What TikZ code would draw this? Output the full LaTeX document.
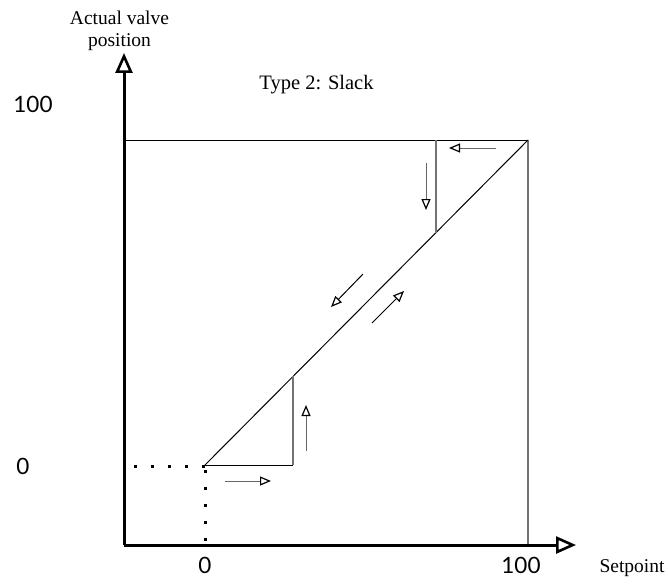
\documentclass[tikz,border=0pt]{standalone}
\usepackage{fontspec}
\setmainfont{Liberation Serif}
\newfontfamily\numfont{Lato}
\usetikzlibrary{arrows.meta}
\begin{document}
\begin{tikzpicture}[x=1pt,y=-1pt,
  axis/.style={line width=3pt,-{Triangle[open,length=20pt,width=17pt,line width=2.6pt]}},
  thin/.style={line width=1pt},
  greyline/.style={line width=1.4pt,draw=black!55},
  small/.style={line width=1pt,draw=black!60,-{Triangle[open,length=11pt,width=9pt,line width=1.2pt,color=black]}},
  dots/.style={line width=3pt,dash pattern=on 3pt off 14pt},
  num/.style={font=\numfont\fontsize{22.5}{26}\selectfont,inner sep=0pt,anchor=base},
  lab/.style={font=\fontsize{19.5}{22}\selectfont,inner sep=0pt,anchor=base}]
\useasboundingbox (0,0) rectangle (668,583);
% key points
\coordinate (O) at (124,545);
\coordinate (ytip) at (124,53);
\coordinate (xtip) at (576,545);
\coordinate (z) at (205,465);
\coordinate (top) at (528,140);
\coordinate (yl) at (124,140);
\coordinate (xr) at (528,545);
\coordinate (ul) at (124,466);
\coordinate (uz) at (205,466);
\coordinate (ub) at (205,545);
\coordinate (a1) at (436,140);
\coordinate (a2) at (436,232.6);
\coordinate (b1) at (293,465);
\coordinate (b2) at (293,376.4);
% frame lines
\draw[thin] (yl) -- (top);
\draw[greyline] (top) -- (xr);
\draw[thin] (z) -- (top);
\draw[greyline] (a1) -- (a2);
\draw[thin] (z) -- (b1);
\draw[greyline] (b1) -- (b2);
% dotted
\draw[dots,dash phase=-10pt] (ul) -- (uz);
\draw[dots,dash phase=-3.5pt] (uz) -- (ub);
% axes
\draw[axis] (O) -- (ytip);
\draw[axis] (O) -- (xtip);
% small arrows
\coordinate (s1a) at (496,148); \coordinate (s1b) at (449,148);
\coordinate (s2a) at (426,163); \coordinate (s2b) at (426,210);
\coordinate (s3a) at (306,451); \coordinate (s3b) at (306,405);
\coordinate (s4a) at (225,481); \coordinate (s4b) at (271,481);
\coordinate (s5a) at (363,274); \coordinate (s5b) at (331,307);
\coordinate (s6a) at (372,323); \coordinate (s6b) at (404,291);
\draw[small] (s1a) -- (s1b);
\draw[small] (s2a) -- (s2b);
\draw[small] (s3a) -- (s3b);
\draw[small] (s4a) -- (s4b);
\draw[small,draw=black] (s5a) -- (s5b);
\draw[small,draw=black] (s6a) -- (s6b);
% texts
\node[lab] (ylab1) at (119.5,25) {Actual valve};
\node[lab] (ylab2) at (119.5,47) {position};
\node[lab,font=\fontsize{20.5}{24}\selectfont] (title) at (316.5,89) {Type 2: Slack};
\node[lab] (xlab) at (632,572) {Setpoint};
\node[num] (n100y) at (33,113) {100};
\node[num] (n0y) at (23,474) {0};
\node[num] (n0x) at (205,573) {0};
\node[num] (n100x) at (521,573) {100};
\end{tikzpicture}
\end{document}
